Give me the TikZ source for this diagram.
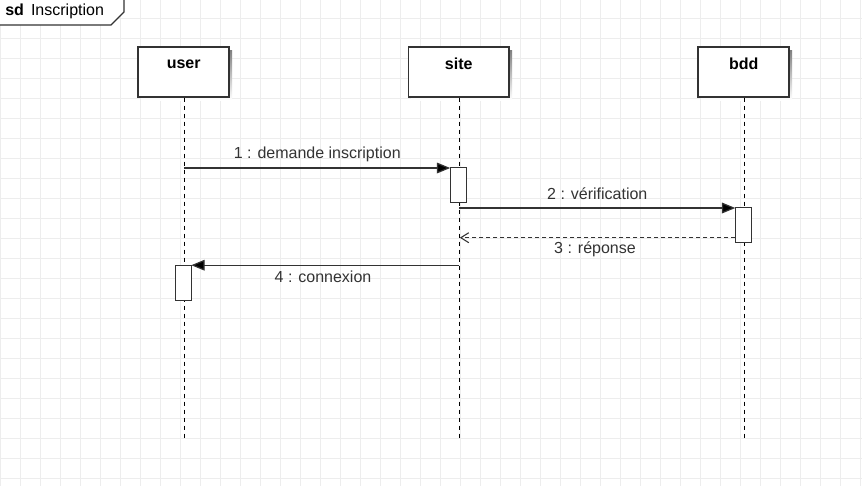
\documentclass[tikz,border=0pt]{standalone}
\usepackage{fontspec}
\setmainfont{Liberation Sans}
\usetikzlibrary{arrows.meta}
\definecolor{gridc}{HTML}{EDEDED}
\definecolor{ink}{HTML}{333333}
\definecolor{shade}{HTML}{F2F2F2}
\tikzset{
  gridline/.style={draw=gridc, line width=0.75pt},
  headbox/.style={draw=ink, line width=1.1pt, fill=white, minimum height=37.5pt, inner sep=0pt},
  headtxt/.style={font=\bfseries\fontsize{12}{14}\selectfont, text=black, inner sep=0pt},
  lifeline/.style={draw=black, line width=0.8pt, dash pattern=on 3pt off 3pt},
  actbox/.style={draw=ink, line width=0.9pt, fill=white, minimum width=12pt, minimum height=26.25pt, inner sep=0pt},
  msg/.style={draw=ink, line width=0.9pt, -{Triangle[length=10pt,width=8pt,fill=black]}},
  ret/.style={draw=ink, line width=0.9pt, dash pattern=on 3pt off 2.25pt, -{Straight Barb[length=6pt,width=7.5pt,line width=0.8pt]}},
  msgtxt/.style={font=\fontsize{12}{14}\selectfont, text=ink, inner sep=0pt},
}
\begin{document}
\begin{tikzpicture}[x=0.75pt,y=-0.75pt]
\useasboundingbox (0,0) rectangle (862,486);
\fill[white] (0,0) rectangle (862,486);
\foreach \x in {0,20,...,860} \draw[gridline] (\x,0) -- (\x,486);
\foreach \y in {18,38,...,478} \draw[gridline] (0,\y) -- (862,\y);

% frame label
\draw[draw=ink, line width=0.9pt, fill=white] (-2,-2) -- (124,-2) -- (124,12) -- (111,25) -- (-2,25);
\node[msgtxt, text=black, anchor=west] (framelbl) at (5,11.5) {\textbf{sd}\, Inscription};

% lifeline heads (shadows)
\fill[shade] (141,50) rectangle (232,100);
\fill[shade] (411,50) rectangle (512,100);
\fill[shade] (701,50) rectangle (792,100);
\node[headbox, minimum width=68.25pt] (userbox) at (183.7,72) {};
\node[headbox, minimum width=75.5pt] (sitebox) at (458.7,72) {};
\node[headbox, minimum width=68.25pt] (bddbox) at (743.7,72) {};
\node[headtxt] (userlbl) at (183.7,64) {user};
\node[headtxt] (sitelbl) at (458.7,64) {site};
\node[headtxt] (bddlbl) at (743.7,64) {bdd};

% lifelines
\coordinate (userend) at (184.3,438);
\coordinate (siteend) at (459.3,438);
\coordinate (bddend) at (744.7,438);
\draw[lifeline] (userbox.south -| userend) -- (userend);
\draw[lifeline] (sitebox.south -| siteend) -- (siteend);
\draw[lifeline] (bddbox.south -| bddend) -- (bddend);

% activations
\node[actbox] (actsite) at (458.2,185.2) {};
\node[actbox] (actbdd) at (743.3,225.2) {};
\node[actbox] (actuser) at (183.3,282.7) {};

% messages
\coordinate (m1s) at (184.3,168);
\coordinate (m1e) at (450.2,168);
\draw[msg] (m1s) -- (m1e) node[msgtxt, midway, yshift=10.5pt] (l1) {1 : demande inscription};

\coordinate (m2s) at (459.3,208);
\coordinate (m2e) at (735.3,208);
\draw[msg] (m2s) -- (m2e) node[msgtxt, midway, yshift=10.5pt] (l2) {2 : vérification};

\coordinate (m3s) at (735.3,237.7);
\coordinate (m3e) at (459.8,237.7);
\draw[ret] (m3s) -- (m3e);
\node[msgtxt] (l3) at (595,249) {3 : réponse};

\coordinate (m4s) at (459.3,265.2);
\coordinate (m4e) at (191.3,265.2);
\draw[msg] (m4s) -- (m4e);
\node[msgtxt] (l4) at (323,276.5) {4 : connexion};
\end{tikzpicture}
\end{document}
